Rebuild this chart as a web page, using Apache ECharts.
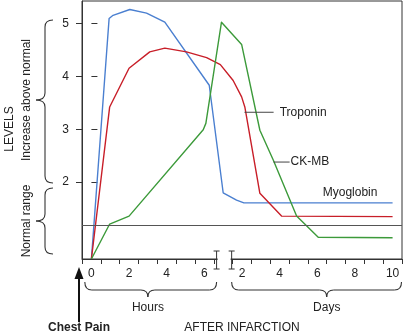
<!DOCTYPE html>
<html>
<head>
<meta charset="utf-8">
<script src="https://cdn.jsdelivr.net/npm/echarts@6/dist/echarts.min.js"></script>
<style>
html,body{margin:0;padding:0;background:#fff;}
#c{width:403px;height:335px;}
</style>
</head>
<body>
<div id="c"></div>
<script>
// ---- data (x: unified position; hours 0..6 -> 0..6, day d -> 6 + d) ----
const xTickValues = [-0.5,0.5,1.5,2.5,3.5,4.5,5.5,6.5,7.5,8.5,9.5,10.5,11.5,12.5,13.5,14.5,15.5,16.5];
const xLabelValues = [0,2,4,6,8,10,12,14,16];
const xLabelTexts = ['0','2','4','6','2','4','6','8','10'];
const yTickValues = [2,3,4,5];
const normalLevel = 1.19;

const myoglobin = [[0,0.55],[0.94,5.09],[1.15,5.15],[2.04,5.26],[2.93,5.19],[3.9,5.02],[6.26,3.83],[7.0,1.80],[7.71,1.66],[8.1,1.61],[16.0,1.61]];
const troponin = [[0,0.55],[0.97,3.42],[2.0,4.15],[3.1,4.46],[3.9,4.53],[5.05,4.46],[6.12,4.35],[6.85,4.22],[7.53,3.92],[7.98,3.61],[8.15,3.42],[8.95,1.79],[10.1,1.36],[16.0,1.35]];
const ckmb = [[0,0.55],[0.97,1.21],[2.0,1.36],[5.94,2.99],[6.08,3.11],[6.91,5.02],[7.98,4.6],[8.95,2.98],[9.66,2.42],[10.9,1.36],[12.05,0.96],[16.0,0.95]];

const seriesNames = ['Myoglobin','Troponin','CK-MB'];
const seriesColors = ['#4a7fd0','#c81e28','#3c9a3a'];

const FONT = "'Liberation Sans', Arial, Helvetica, sans-serif";
const INK = '#222';
const AX = '#333';

const chart = echarts.init(document.getElementById('c'), null, {renderer:'canvas'});

const yMin = 0.55, yMax = 5.42;

chart.setOption({
  animation: false,
  grid: {left: 82, right: 1, top: 1, bottom: 76, show: true, borderColor: AX, borderWidth: 1, backgroundColor: 'transparent'},
  xAxis: {
    type: 'value', min: -0.5, max: 16.5,
    axisLine: {show: true, onZero: false, lineStyle: {color: AX, width: 1}},
    axisTick: {show: true, inside: false, length: 5, customValues: xTickValues, lineStyle: {color: AX}},
    axisLabel: {show: true, customValues: xLabelValues, margin: 9, fontSize: 12, fontFamily: FONT, color: INK,
      formatter: function (v) { const i = xLabelValues.indexOf(v); return i >= 0 ? xLabelTexts[i] : ''; }},
    splitLine: {show: false}
  },
  yAxis: [{
    type: 'value', min: yMin, max: yMax, position: 'left',
    axisLine: {show: true, onZero: false, lineStyle: {color: AX, width: 1}},
    axisTick: {show: true, inside: false, length: 6, customValues: yTickValues, lineStyle: {color: AX}},
    axisLabel: {show: true, customValues: yTickValues, margin: 13, fontSize: 12, fontFamily: FONT, color: INK},
    splitLine: {show: false}
  }, {
    type: 'value', min: yMin, max: yMax, position: 'left', offset: 0,
    axisLine: {show: false},
    axisTick: {show: true, inside: true, length: 6, customValues: yTickValues, lineStyle: {color: AX}},
    axisLabel: {show: false},
    splitLine: {show: false}
  }],
  series: [
    {name: seriesNames[0], type: 'line', data: myoglobin, symbol: 'none', lineStyle: {color: seriesColors[0], width: 1.4, join: 'round'}, z: 3,
      markLine: {silent: true, symbol: 'none', label: {show: false}, lineStyle: {color: '#555', width: 1, type: 'solid'}, data: [{yAxis: normalLevel}]}},
    {name: seriesNames[1], type: 'line', data: troponin, symbol: 'none', lineStyle: {color: seriesColors[1], width: 1.4, join: 'round'}, z: 3},
    {name: seriesNames[2], type: 'line', data: ckmb, symbol: 'none', lineStyle: {color: seriesColors[2], width: 1.4, join: 'round'}, z: 3}
  ]
});

// ---- annotations ----
const P = (u, L) => chart.convertToPixel({xAxisIndex: 0, yAxisIndex: 0}, [u, L]);
const els = [];
function txt(x, y, t, opt) {
  opt = opt || {};
  els.push({type: 'text', x: x, y: y, rotation: opt.rot || 0, z: 100,
    style: {text: t, font: (opt.bold ? 'bold ' : '') + (opt.size || 12) + 'px ' + FONT, fill: opt.color || INK,
      align: opt.align || 'center', verticalAlign: 'middle', textAlign: opt.align || 'center', textVerticalAlign: 'middle'}});
}
function line(x1, y1, x2, y2, w, c) {
  els.push({type: 'line', z: 100, shape: {x1: x1, y1: y1, x2: x2, y2: y2}, style: {stroke: c || AX, lineWidth: w || 1}});
}
function quad(x1, y1, cx, cy, x2, y2) {
  els.push({type: 'bezierCurve', z: 100, shape: {x1: x1, y1: y1, cpx1: cx, cpy1: cy, x2: x2, y2: y2}, style: {stroke: AX, lineWidth: 1.1, fill: null}});
}
function vBrace(x0, xm, xt, y1, ym, y2) {
  const r = 7;
  quad(x0, y1, xm, y1, xm, y1 + r);
  line(xm, y1 + r, xm, ym - r, 1.1);
  quad(xm, ym - r, xm, ym, xt, ym);
  quad(xt, ym, xm, ym, xm, ym + r);
  line(xm, ym + r, xm, y2 - r, 1.1);
  quad(xm, y2 - r, xm, y2, x0, y2);
}
function hBrace(x1, xm, x2, y0, yl, yt) {
  const r = 7;
  quad(x1, y0, x1, yl, x1 + r, yl);
  line(x1 + r, yl, xm - r, yl, 1.1);
  quad(xm - r, yl, xm, yl, xm, yt);
  quad(xm, yt, xm, yl, xm + r, yl);
  line(xm + r, yl, x2 - r, yl, 1.1);
  quad(x2 - r, yl, x2, yl, x2, y0);
}

// axis break
const axisY = P(0, yMin)[1];
const b1 = P(6.65, yMin)[0], b2 = P(7.45, yMin)[0];
els.push({type: 'rect', z: 99, shape: {x: b1 + 1, y: axisY - 2, width: b2 - b1 - 2, height: 4}, style: {fill: '#fff'}});
[b1, b2].forEach(function (bx) {
  line(bx, axisY - 8, bx, axisY + 10, 1);
  line(bx - 3, axisY - 8, bx + 3, axisY - 8, 1);
  line(bx - 3, axisY + 10, bx + 3, axisY + 10, 1);
});

// series labels with leaders
const tA = P(8.13, 3.32), tB = P(9.68, 3.32), tT = P(10.0, 3.32);
line(tA[0], tA[1], tB[0], tB[1], 1, '#444');
txt(tT[0], tT[1], 'Troponin', {align: 'left'});
const cA = P(9.68, 2.38), cB = P(10.53, 2.38), cT = P(10.58, 2.38);
line(cA[0], cA[1], cB[0], cB[1], 1, '#444');
txt(cT[0], cT[1], 'CK-MB', {align: 'left'});
const mT = P(12.29, 1.80);
txt(mT[0], mT[1], 'Myoglobin', {align: 'left'});

// left side
txt(10, 129, 'LEVELS', {rot: Math.PI / 2});
txt(27, 100, 'Increase above normal', {rot: Math.PI / 2});
txt(27, 221, 'Normal range', {rot: Math.PI / 2});
vBrace(53, 45, 36, 20, 100, 183);
vBrace(53, 45, 36, 188, 221, 254);

// bottom
const h1 = P(-0.35, yMin)[0], hm = P(3.0, yMin)[0], h2 = b1;
const d1 = b2, dm = P(12.5, yMin)[0], d2 = P(16.5, yMin)[0] - 0.5;
hBrace(h1, hm, h2, 282, 290, 297);
hBrace(d1, dm, d2, 282, 290, 297);
txt(hm, 308, 'Hours');
txt(dm, 308, 'Days');
txt(242, 328, 'AFTER INFARCTION');
txt(79, 328, 'Chest Pain', {bold: true});
line(79, 322, 79, 276, 2, '#111');
els.push({type: 'polygon', z: 100, shape: {points: [[74.5, 279], [79, 267], [83.5, 279]]}, style: {fill: '#111'}});

chart.setOption({graphic: {elements: els}});
</script>
</body>
</html>
